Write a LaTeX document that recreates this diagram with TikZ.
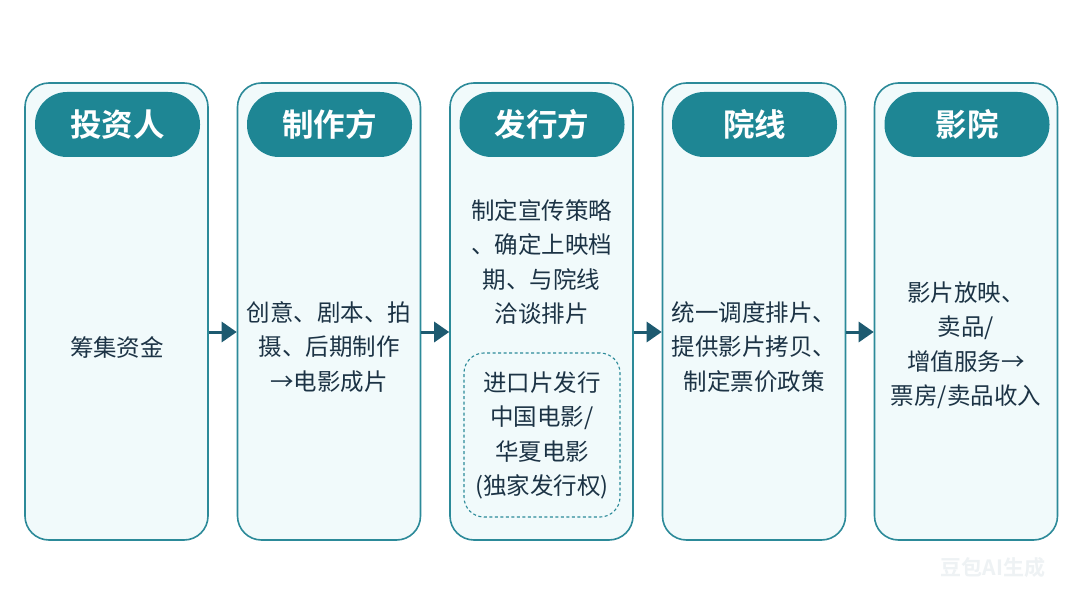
\documentclass[tikz,border=0pt]{standalone}
\usepackage{fontspec}
\setmainfont{Noto Sans CJK SC}[BoldFont={Noto Sans CJK SC Bold}]
\usetikzlibrary{arrows.meta}
\definecolor{teal1}{HTML}{1E8694}
\definecolor{boxline}{HTML}{2C8A99}
\definecolor{boxfill}{HTML}{F1FAFB}
\definecolor{txt}{HTML}{1C3345}
\definecolor{arr}{HTML}{1D5A70}
\definecolor{wm}{HTML}{EEF2F4}
\tikzset{
  col/.style={draw=boxline, line width=1.6pt, fill=boxfill, rounded corners=24pt,
    minimum width=183pt, minimum height=457pt, inner sep=0pt},
  pill/.style={fill=teal1, rounded corners=32pt, minimum width=165pt, minimum height=65pt,
    inner sep=0pt, text=white, font=\fontsize{31.5}{36}\selectfont\bfseries},
  body/.style={text=txt, align=center, inner sep=0pt, font=\fontsize{23.5}{34.5}\selectfont},
  dbox/.style={draw=boxline, line width=1.1pt, dashed, dash pattern=on 3pt off 2.5pt,
    rounded corners=20pt, minimum width=156pt, minimum height=164pt, inner sep=0pt},
  flow/.style={draw=arr, line width=3pt, -{Triangle[length=15pt,width=20pt]}},
}
\begin{document}
\begin{tikzpicture}[x=1pt,y=-1pt]
\useasboundingbox[fill=white] (0,0) rectangle (1080,607);
% columns
\node[col] (b1) at (116.5,311.5) {};
\node[col] (b2) at (329,311.5) {};
\node[col] (b3) at (541.5,311.5) {};
\node[col] (b4) at (754,311.5) {};
\node[col] (b5) at (966,311.5) {};
% headers
\node[pill] (h1) at (117.5,124.5) {投资人};
\node[pill] (h2) at (329.5,124.5) {制作方};
\node[pill] (h3) at (542,124.5) {发行方};
\node[pill] (h4) at (754.5,124.5) {院线};
\node[pill] (h5) at (967,124.5) {影院};
% bodies
\node[body] (t1) at (117,347) {筹集资金};
\node[body] (t2) at (329,347) {创意、剧本、拍\\摄、后期制作\\→电影成片};
\node[body] (t3) at (541.5,262) {制定宣传策略\\、确定上映档\\期、与院线\\洽谈排片};
\node[dbox] (d3) at (542,435) {};
\node[body] (t3b) at (542,435.5) {进口片发行\\中国电影/\\华夏电影\\(独家发行权)};
\node[body] (t4) at (754,347) {统一调度排片、\\提供影片拷贝、\\制定票价政策};
\node[body] (t5) at (966,345) {影片放映、\\卖品/\\增值服务→\\票房/卖品收入};
% arrows
\draw[flow] ([yshift=-20.5pt]b1.east) -- ([yshift=-20.5pt]b2.west);
\draw[flow] ([yshift=-20.5pt]b2.east) -- ([yshift=-20.5pt]b3.west);
\draw[flow] ([yshift=-20.5pt]b3.east) -- ([yshift=-20.5pt]b4.west);
\draw[flow] ([yshift=-20.5pt]b4.east) -- ([yshift=-20.5pt]b5.west);
% watermark
\node[text=wm, font=\fontsize{21}{24}\selectfont\bfseries, inner sep=0pt] (wmk) at (993,568) {豆包AI生成};
\end{tikzpicture}
\end{document}
